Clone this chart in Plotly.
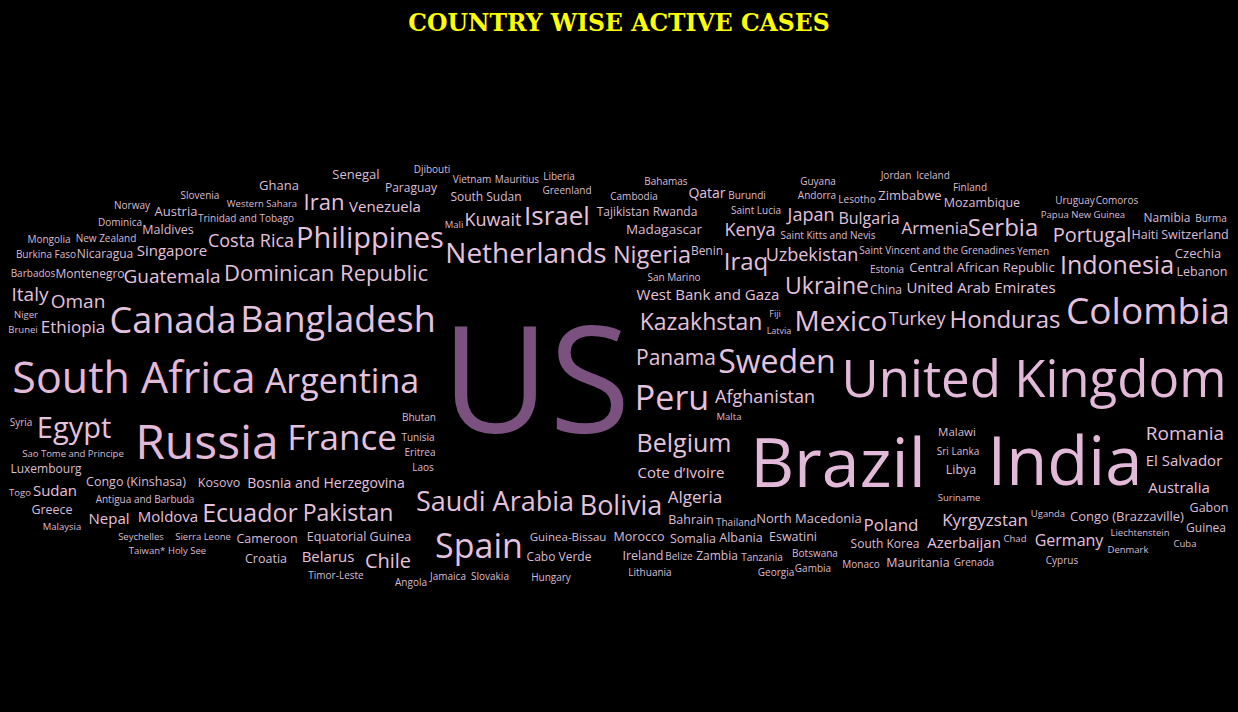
import plotly.graph_objects as go

# ---- data: country names and their relative weight (word size ~ active cases) ----
countries = [
    "Djibouti", "Senegal", "Vietnam", "Mauritius", "Liberia", "Bahamas", "Guyana", "Jordan", "Iceland",
    "Ghana", "Paraguay", "Greenland", "Finland", "Slovenia", "Cambodia", "Qatar", "Burundi", "Andorra",
    "Lesotho", "Zimbabwe", "South Sudan", "Uruguay", "Comoros", "Western Sahara", "Iran", "Venezuela",
    "Norway", "Mozambique", "Austria", "Mali", "Kuwait", "Israel", "Tajikistan", "Rwanda", "Saint Lucia",
    "Japan", "Bulgaria", "Papua New Guinea", "Namibia", "Burma", "Trinidad and Tobago", "Dominica",
    "Maldives", "Costa Rica", "Philippines", "Madagascar", "Kenya", "Saint Kitts and Nevis", "Armenia",
    "Serbia", "Portugal", "Haiti", "Switzerland", "Mongolia", "New Zealand", "Netherlands", "Nigeria",
    "Benin", "Iraq", "Uzbekistan", "Saint Vincent and the Grenadines", "Yemen", "Czechia", "Burkina Faso",
    "Nicaragua", "Singapore", "Dominican Republic", "Guatemala", "Barbados", "Montenegro", "San Marino",
    "Estonia", "Central African Republic", "Indonesia", "Lebanon", "Ukraine", "China",
    "United Arab Emirates", "West Bank and Gaza", "Italy", "Oman", "Niger", "Brunei", "Ethiopia",
    "Canada", "Bangladesh", "Colombia", "Kazakhstan", "Fiji", "Latvia", "Mexico", "Turkey", "Honduras",
    "South Africa", "Argentina", "US", "Panama", "Sweden", "United Kingdom", "Peru", "Afghanistan",
    "Malta", "Syria", "Egypt", "Russia", "France", "Bhutan", "Tunisia", "Eritrea", "Laos", "Belgium",
    "Brazil", "India", "Malawi", "Sri Lanka", "Libya", "Suriname", "Romania", "El Salvador", "Australia",
    "Sao Tome and Principe", "Luxembourg", "Congo (Kinshasa)", "Kosovo", "Bosnia and Herzegovina",
    "Cote d\u2019Ivoire", "Togo", "Sudan", "Antigua and Barbuda", "Saudi Arabia", "Bolivia", "Algeria",
    "Greece", "Malaysia", "Nepal", "Moldova", "Ecuador", "Pakistan", "Bahrain", "Thailand",
    "North Macedonia", "Poland", "Kyrgyzstan", "Uganda", "Congo (Brazzaville)", "Gabon", "Guinea",
    "Seychelles", "Sierra Leone", "Cameroon", "Equatorial Guinea", "Spain", "Guinea-Bissau", "Morocco",
    "Somalia", "Albania", "Eswatini", "South Korea", "Azerbaijan", "Chad", "Germany", "Liechtenstein",
    "Denmark", "Cuba", "Taiwan*", "Holy See", "Croatia", "Belarus", "Chile", "Cabo Verde", "Ireland",
    "Belize", "Zambia", "Tanzania", "Botswana", "Monaco", "Mauritania", "Grenada", "Cyprus",
    "Timor-Leste", "Angola", "Jamaica", "Slovakia", "Hungary", "Lithuania", "Georgia", "Gambia",
]

weight = [
    10, 13, 10, 10, 10, 10, 10, 10, 10,
    13, 12, 10, 10, 10, 10, 14, 10, 10,
    10, 13, 12, 10, 10, 9.5, 22, 15,
    10, 12.5, 13, 9.5, 18, 26, 12, 12, 10,
    18, 16, 9.5, 12, 10, 10, 10,
    12.5, 18, 29, 13.5, 18, 10, 17,
    24, 20, 12.5, 12.5, 10, 10, 28, 23.5,
    12, 24, 18, 10, 10, 13, 10,
    12, 15, 22, 19, 10, 12, 10,
    10, 13, 25, 12.5, 23, 12,
    15, 15, 19, 19, 9.5, 9.5, 17,
    36, 36, 37, 23, 9, 9, 28, 18, 24,
    43, 34, 148, 21, 32, 51, 34, 18,
    9.5, 10, 29, 48, 35, 10, 10, 10, 10, 25,
    68, 67, 11.5, 10, 12.5, 9.5, 19, 15, 15,
    9.5, 12, 12.5, 12.5, 14,
    15, 9.5, 15, 10, 27, 27, 17,
    12.5, 9.5, 15, 15, 25, 23, 12.5, 10,
    13, 17, 17, 9.5, 13, 12.5, 12,
    9.5, 9.5, 12.5, 12.5, 34, 11.5, 12.5,
    12.5, 12.5, 12.5, 12, 15, 9.5, 16, 9.5,
    9.5, 9.5, 9.5, 9.5, 12.5, 15, 20, 12, 12.5,
    10, 12, 10, 10, 10, 12.5, 10, 10,
    10, 10, 10, 10, 10, 10, 10, 10,
]

# ---- word-cloud layout (placement of each word, in pixels) ----
pos_x = [
    432, 356, 472, 517, 559, 666, 818, 896, 933,
    279, 411, 567, 970, 200, 634, 707, 747, 817,
    857, 910, 486, 1075, 1117, 262, 324, 385,
    132, 982, 176, 454, 493, 557, 623, 675, 756,
    811, 869, 1083, 1167, 1211, 246, 120,
    168, 251, 370, 664, 750, 828, 935,
    1003, 1092, 1145, 1195, 49, 106, 526, 652,
    707, 746, 812, 937, 1033, 1198, 46,
    105, 172, 326, 172, 33, 90, 674,
    887, 982, 1117, 1202, 827, 886,
    981, 708, 30, 78, 26, 23, 73,
    173, 338, 1148, 701, 775, 779, 841, 917, 1005,
    134, 342, 536, 676, 777, 1034, 672, 765,
    729, 21, 74, 207, 342, 419, 418, 420, 423, 684,
    838, 1065, 957, 958, 961, 959, 1185, 1184, 1179,
    73, 46, 136, 219, 326,
    681, 20, 55, 145, 495, 621, 695,
    52, 62, 109, 168, 250, 348, 691, 736,
    809, 891, 985, 1048, 1127, 1209, 1206,
    141, 203, 267, 359, 479, 568, 639,
    693, 741, 793, 885, 964, 1015, 1069, 1140,
    1128, 1185, 147, 187, 266, 328, 388, 559, 643,
    679, 717, 762, 815, 861, 918, 974, 1062,
    336, 411, 448, 490, 551, 650, 776, 813,
]
pos_y = [
    169, 174, 179, 179, 176, 181, 181, 175, 175,
    185, 188, 190, 187, 195, 196, 193, 195, 195,
    199, 195, 197, 200, 200, 204, 202, 207,
    205, 203, 211, 225, 220, 216, 212, 212, 210,
    215, 218, 215, 218, 218, 218, 222,
    230, 241, 238, 229, 230, 235, 228,
    228, 235, 235, 235, 239, 238, 253, 255,
    251, 262, 255, 250, 251, 253, 254,
    254, 251, 273, 276, 273, 274, 277,
    269, 267, 265, 272, 286, 290,
    288, 295, 294, 301, 315, 330, 327,
    320, 319, 311, 322, 314, 331, 321, 319, 320,
    378, 381, 381, 358, 362, 379, 398, 397,
    417, 422, 428, 442, 438, 417, 437, 452, 467, 443,
    463, 462, 432, 451, 470, 498, 433, 461, 488,
    454, 469, 482, 483, 483,
    473, 493, 491, 499, 502, 506, 497,
    510, 527, 519, 517, 513, 513, 520, 522,
    518, 525, 520, 514, 516, 508, 528,
    537, 537, 539, 537, 546, 537, 537,
    539, 538, 537, 544, 543, 539, 540, 533,
    550, 544, 551, 551, 559, 557, 561, 557, 556,
    556, 556, 557, 553, 564, 563, 562, 560,
    575, 582, 576, 576, 577, 572, 572, 568,
]

W, H = 1238, 712
FONT = "Open Sans"
BASELINE_SHIFT = 0.1  # em offset so the glyphs sit like the reference font


def word_color(w):
    if w >= 100:
        return "#7b5180"
    if w >= 40:
        return "#e3b9d9"
    if w >= 14:
        return "#e4c2dd"
    return "#d9bdd4"


fig = go.Figure()
fig.add_trace(go.Scatter(
    x=pos_x,
    y=[y + BASELINE_SHIFT * w for y, w in zip(pos_y, weight)],
    mode="text",
    text=countries,
    textposition="middle center",
    textfont=dict(family=FONT, size=weight, color=[word_color(w) for w in weight]),
    hoverinfo="text",
    showlegend=False,
))

fig.update_layout(
    width=W,
    height=H,
    margin=dict(l=0, r=0, t=0, b=0),
    paper_bgcolor="#000000",
    plot_bgcolor="#000000",
    xaxis=dict(range=[0, W], visible=False, fixedrange=True),
    yaxis=dict(range=[H, 0], visible=False, fixedrange=True),
    title=dict(
        text="<b>COUNTRY WISE ACTIVE CASES</b>",
        x=0.5,
        xanchor="center",
        y=1 - 23 / H,
        yanchor="middle",
        font=dict(family="DejaVu Serif", size=23.5, color="#ffff00"),
    ),
)

fig.write_html("out.html", config={"displayModeBar": False})
